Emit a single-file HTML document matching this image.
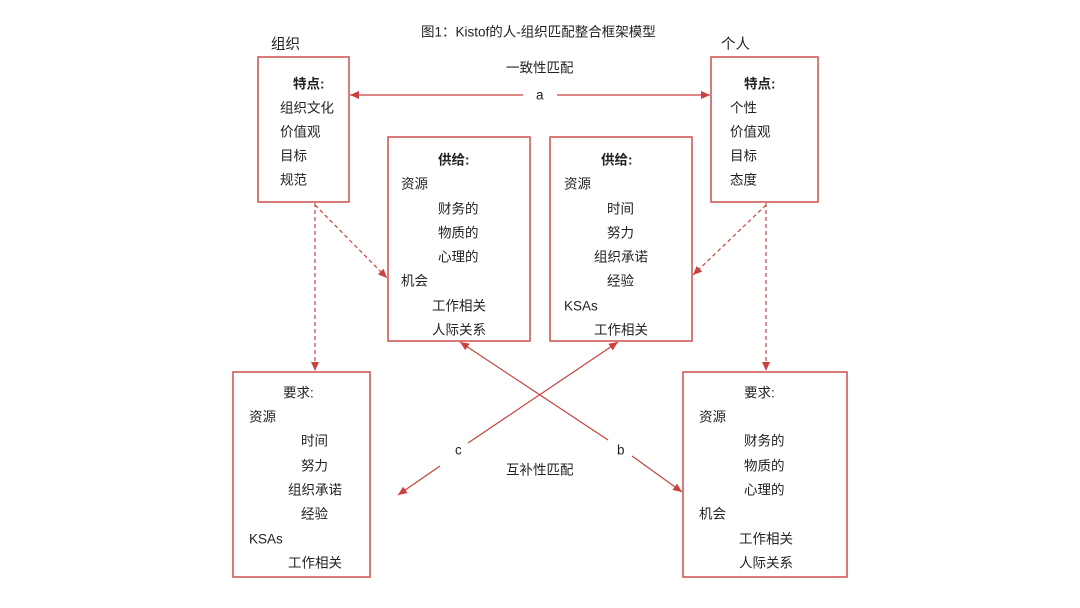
<!DOCTYPE html>
<html><head><meta charset="utf-8"><style>
body{margin:0;width:1080px;height:608px;background:#fff;position:relative;overflow:hidden;font-family:"Liberation Sans","Noto Sans CJK SC",sans-serif;color:#222;font-size:13.5px}
.t{position:absolute;white-space:nowrap;transform:translateY(-50%);line-height:1}
.b{font-weight:bold}
</style></head><body>
<svg width="1080" height="608" style="position:absolute;left:0;top:0">
<defs><marker id="m" markerWidth="10" markerHeight="10" refX="9" refY="5" orient="auto" markerUnits="userSpaceOnUse"><path d="M0,1 L9,5 L0,9 z" fill="#c9423f"/></marker></defs>
<g fill="none" stroke="#d05a58" stroke-width="1.6">
<rect x="258" y="57" width="91" height="145"/>
<rect x="711" y="57" width="107" height="145"/>
<rect x="388" y="137" width="142" height="204"/>
<rect x="550" y="137" width="142" height="204"/>
<rect x="233" y="372" width="137" height="205"/>
<rect x="683" y="372" width="164" height="205"/>
</g>
<g stroke="#c9423f" stroke-width="1.2" fill="none">
<line x1="523" y1="95" x2="350" y2="95" marker-end="url(#m)"/>
<line x1="557" y1="95" x2="710" y2="95" marker-end="url(#m)"/>
<g stroke-dasharray="4,3">
<line x1="315" y1="203" x2="315" y2="371" marker-end="url(#m)"/>
<line x1="315" y1="205" x2="387" y2="278" marker-end="url(#m)"/>
<line x1="766" y1="203" x2="766" y2="371" marker-end="url(#m)"/>
<line x1="766" y1="205" x2="693" y2="275" marker-end="url(#m)"/>
</g>
<line x1="608" y1="440" x2="460" y2="342" marker-end="url(#m)"/>
<line x1="632" y1="456" x2="682" y2="492" marker-end="url(#m)"/>
<line x1="468" y1="443" x2="618" y2="342" marker-end="url(#m)"/>
<line x1="440" y1="466" x2="398" y2="495" marker-end="url(#m)"/>
</g>
</svg>
<div class="t" style="left:421px;top:32px">图1：Kistof的人-组织匹配整合框架模型</div>
<div class="t" style="left:271px;top:45px;font-size:14.5px">组织</div>
<div class="t" style="left:721px;top:45px;font-size:14.5px">个人</div>
<div class="t" style="left:506px;top:68px">一致性匹配</div>
<div class="t" style="left:536px;top:95px">a</div>
<div class="t" style="left:455px;top:450px">c</div>
<div class="t" style="left:617px;top:450px">b</div>
<div class="t" style="left:506px;top:470px">互补性匹配</div>

<div class="t b" style="left:293px;top:84px">特点:</div>
<div class="t" style="left:280px;top:108px">组织文化</div>
<div class="t" style="left:280px;top:132px">价值观</div>
<div class="t" style="left:280px;top:156px">目标</div>
<div class="t" style="left:280px;top:180px">规范</div>

<div class="t b" style="left:744px;top:84px">特点:</div>
<div class="t" style="left:730px;top:108px">个性</div>
<div class="t" style="left:730px;top:132px">价值观</div>
<div class="t" style="left:730px;top:156px">目标</div>
<div class="t" style="left:730px;top:180px">态度</div>

<div class="t b" style="left:438px;top:160px">供给:</div>
<div class="t" style="left:401px;top:184px">资源</div>
<div class="t" style="left:438px;top:209px">财务的</div>
<div class="t" style="left:438px;top:233px">物质的</div>
<div class="t" style="left:438px;top:257px">心理的</div>
<div class="t" style="left:401px;top:281px">机会</div>
<div class="t" style="left:432px;top:306px">工作相关</div>
<div class="t" style="left:432px;top:330px">人际关系</div>

<div class="t b" style="left:601px;top:160px">供给:</div>
<div class="t" style="left:564px;top:184px">资源</div>
<div class="t" style="left:607px;top:209px">时间</div>
<div class="t" style="left:607px;top:233px">努力</div>
<div class="t" style="left:594px;top:257px">组织承诺</div>
<div class="t" style="left:607px;top:281px">经验</div>
<div class="t" style="left:564px;top:306px">KSAs</div>
<div class="t" style="left:594px;top:330px">工作相关</div>

<div class="t" style="left:283px;top:393px">要求:</div>
<div class="t" style="left:249px;top:417px">资源</div>
<div class="t" style="left:301px;top:441px">时间</div>
<div class="t" style="left:301px;top:466px">努力</div>
<div class="t" style="left:288px;top:490px">组织承诺</div>
<div class="t" style="left:301px;top:514px">经验</div>
<div class="t" style="left:249px;top:539px">KSAs</div>
<div class="t" style="left:288px;top:563px">工作相关</div>

<div class="t" style="left:744px;top:393px">要求:</div>
<div class="t" style="left:699px;top:417px">资源</div>
<div class="t" style="left:744px;top:441px">财务的</div>
<div class="t" style="left:744px;top:466px">物质的</div>
<div class="t" style="left:744px;top:490px">心理的</div>
<div class="t" style="left:699px;top:514px">机会</div>
<div class="t" style="left:739px;top:539px">工作相关</div>
<div class="t" style="left:739px;top:563px">人际关系</div>
</body></html>
